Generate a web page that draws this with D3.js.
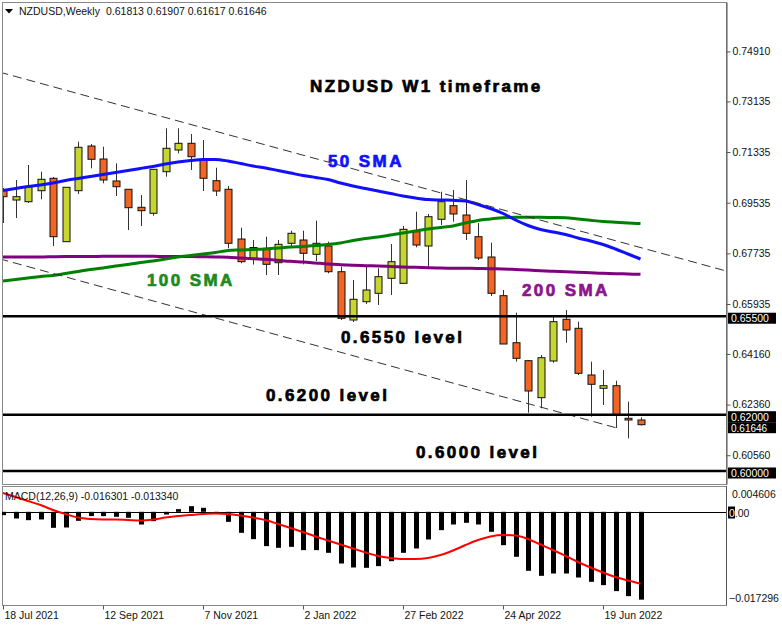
<!DOCTYPE html>
<html><head><meta charset="utf-8">
<script src="https://cdn.jsdelivr.net/npm/d3@7"></script>
<style>
body{margin:0;background:#fff;}
svg{display:block;font-family:"Liberation Sans",Arial,sans-serif;}
</style></head><body>
<svg id="c" width="782" height="626"></svg>
<script>
const dates = ["2021-07-18","2021-07-25","2021-08-01","2021-08-08","2021-08-15","2021-08-22","2021-08-29","2021-09-05","2021-09-12","2021-09-19","2021-09-26","2021-10-03","2021-10-10","2021-10-17","2021-10-24","2021-10-31","2021-11-07","2021-11-14","2021-11-21","2021-11-28","2021-12-05","2021-12-12","2021-12-19","2021-12-26","2022-01-02","2022-01-09","2022-01-16","2022-01-23","2022-01-30","2022-02-06","2022-02-13","2022-02-20","2022-02-27","2022-03-06","2022-03-13","2022-03-20","2022-03-27","2022-04-03","2022-04-10","2022-04-17","2022-04-24","2022-05-01","2022-05-08","2022-05-15","2022-05-22","2022-05-29","2022-06-05","2022-06-12","2022-06-19","2022-06-26","2022-07-03","2022-07-10"];
const open = [0.69986,0.69630,0.69570,0.69961,0.70402,0.68149,0.69961,0.71549,0.71087,0.70306,0.70011,0.69371,0.69158,0.70636,0.71407,0.71645,0.71052,0.70316,0.70011,0.68244,0.67552,0.67914,0.67402,0.68092,0.68209,0.67701,0.67996,0.67082,0.65366,0.66016,0.66315,0.66848,0.66670,0.68504,0.67996,0.68945,0.69428,0.69097,0.68326,0.67605,0.66230,0.64559,0.63920,0.62605,0.63909,0.65391,0.65071,0.63412,0.62939,0.63031,0.61873,0.61813];
const high = [0.70057,0.70341,0.70874,0.70636,0.70448,0.70092,0.71702,0.71620,0.71524,0.70935,0.70021,0.69808,0.70732,0.72178,0.72178,0.71976,0.71762,0.70778,0.70128,0.68646,0.68209,0.68326,0.68209,0.68539,0.68539,0.68895,0.68149,0.67260,0.66788,0.67260,0.67203,0.68067,0.68706,0.69215,0.69133,0.69925,0.69986,0.70341,0.68813,0.68113,0.66432,0.65625,0.63945,0.64122,0.65483,0.65721,0.65306,0.63884,0.63589,0.63209,0.62463,0.61907];
const low = [0.68813,0.68990,0.69524,0.69655,0.67996,0.68138,0.69844,0.70757,0.70224,0.69773,0.68564,0.68706,0.69072,0.70458,0.71290,0.70697,0.69950,0.69773,0.67914,0.67381,0.67338,0.66965,0.66965,0.67996,0.67345,0.67463,0.67026,0.65366,0.65295,0.65935,0.65899,0.66255,0.66670,0.67950,0.67260,0.68742,0.68859,0.68209,0.67498,0.66219,0.64513,0.63884,0.62072,0.62228,0.63849,0.64559,0.63412,0.61930,0.62345,0.61528,0.61162,0.61617];
const close = [0.69748,0.69748,0.70103,0.70366,0.68326,0.70082,0.71503,0.71077,0.70341,0.70103,0.69357,0.69250,0.70721,0.71468,0.71645,0.71169,0.70402,0.69950,0.68092,0.67438,0.67942,0.67345,0.68056,0.68447,0.67736,0.68092,0.67082,0.65426,0.66102,0.66432,0.66905,0.67438,0.68589,0.68031,0.69037,0.69570,0.69133,0.68447,0.67569,0.66315,0.64513,0.64005,0.62843,0.64026,0.65306,0.65011,0.63472,0.63081,0.63031,0.61990,0.61812,0.61646];
const sma50 = [0.69968,0.70039,0.70110,0.70164,0.70235,0.70323,0.70395,0.70466,0.70537,0.70608,0.70679,0.70750,0.70821,0.70910,0.70981,0.71034,0.71070,0.71070,0.71016,0.70928,0.70839,0.70768,0.70679,0.70590,0.70501,0.70430,0.70359,0.70235,0.70128,0.70039,0.69950,0.69862,0.69773,0.69702,0.69648,0.69631,0.69620,0.69595,0.69471,0.69328,0.69151,0.68920,0.68724,0.68582,0.68493,0.68405,0.68280,0.68174,0.68049,0.67889,0.67712,0.67534];
const sma100 = [0.66752,0.66805,0.66859,0.66912,0.66947,0.67019,0.67090,0.67161,0.67214,0.67285,0.67338,0.67409,0.67463,0.67534,0.67605,0.67658,0.67712,0.67765,0.67836,0.67854,0.67871,0.67889,0.67925,0.67960,0.67978,0.68014,0.68049,0.68102,0.68191,0.68262,0.68316,0.68387,0.68458,0.68529,0.68600,0.68653,0.68707,0.68813,0.68902,0.68955,0.69002,0.69016,0.69016,0.69016,0.69009,0.69002,0.68955,0.68909,0.68866,0.68838,0.68813,0.68795];
const sma200 = [0.67605,0.67605,0.67605,0.67605,0.67616,0.67623,0.67623,0.67623,0.67630,0.67630,0.67630,0.67630,0.67630,0.67623,0.67623,0.67623,0.67616,0.67605,0.67594,0.67569,0.67544,0.67523,0.67488,0.67452,0.67427,0.67392,0.67356,0.67331,0.67310,0.67296,0.67285,0.67267,0.67250,0.67239,0.67225,0.67214,0.67207,0.67203,0.67196,0.67186,0.67178,0.67161,0.67143,0.67118,0.67097,0.67079,0.67061,0.67043,0.67026,0.67011,0.67001,0.66990];
const macdHist = [-0.00062,-0.00124,-0.00155,-0.00142,-0.00297,-0.00291,-0.00167,-0.00080,-0.00080,-0.00093,-0.00111,-0.00235,-0.00173,-0.00050,0.00050,0.00105,0.00074,-0.00010,-0.00186,-0.00390,-0.00507,-0.00637,-0.00668,-0.00650,-0.00711,-0.00711,-0.00761,-0.00959,-0.01033,-0.01039,-0.01008,-0.00916,-0.00761,-0.00680,-0.00513,-0.00340,-0.00235,-0.00204,-0.00235,-0.00371,-0.00619,-0.00835,-0.01095,-0.01188,-0.01145,-0.01145,-0.01219,-0.01299,-0.01361,-0.01472,-0.01565,-0.01630];
const macdSignal = [0.00349,0.00275,0.00200,0.00126,0.00033,-0.00041,-0.00106,-0.00134,-0.00143,-0.00143,-0.00152,-0.00161,-0.00143,-0.00106,-0.00078,-0.00059,-0.00041,-0.00032,-0.00041,-0.00069,-0.00106,-0.00152,-0.00226,-0.00301,-0.00375,-0.00458,-0.00533,-0.00607,-0.00681,-0.00755,-0.00820,-0.00857,-0.00876,-0.00876,-0.00857,-0.00802,-0.00718,-0.00616,-0.00523,-0.00458,-0.00431,-0.00440,-0.00505,-0.00607,-0.00709,-0.00820,-0.00932,-0.01034,-0.01127,-0.01210,-0.01275,-0.01334];
const priceTicks = [0.74910,0.73135,0.71335,0.69535,0.67735,0.65935,0.64160,0.62360,0.60560];
const levelValues = [0.655,0.62,0.60];
const currentPrice = 0.61646;
const dateTicks = ["2021-07-18","2021-09-12","2021-11-07","2022-01-02","2022-02-27","2022-04-24","2022-06-19"];
const trendUpper = [["2021-07-16",0.74176],["2022-08-28",0.67090]];
const trendLower = [["2021-07-16",0.67541],["2022-06-26",0.61542]];
const macdMax = 0.004606, macdMin = -0.017296;
const headerText = "NZDUSD,Weekly";
const headerValues = "0.61813 0.61907 0.61617 0.61646";
const macdText = "MACD(12,26,9) -0.016301 -0.013340";

const parse = d3.utcParse("%Y-%m-%d");
const fmtDate = d3.utcFormat("%-d %b %Y");
const svg = d3.select("#c");
const L = 2, R = 726, T = 2, B = 484, MT = 486, MB = 605;

const x = d3.scaleUtc().domain([parse(dates[0]), parse(dateTicks[6])]).range([3, 603]);
const y = d3.scaleLinear().domain([0.595380, 0.766667]).range([B, T]);
const ym = d3.scaleLinear().domain([macdMin, macdMax]).range([MB, 487]);

const defs = svg.append("defs");
defs.append("clipPath").attr("id","cm").append("rect").attr("x",L).attr("y",T).attr("width",R-L).attr("height",B-T);
defs.append("clipPath").attr("id","cd").append("rect").attr("x",L).attr("y",MT).attr("width",R-L).attr("height",MB-MT);

const candles = dates.map((d,i)=>({date:parse(d),o:open[i],h:high[i],l:low[i],c:close[i]}));
const ORANGE = "#f26522", LIME = "#c5d62e";

const gm = svg.append("g").attr("clip-path","url(#cm)");
const cg = gm.append("g");
cg.selectAll("line.w").data(candles).join("line").attr("class","w")
  .attr("x1",d=>Math.round(x(d.date))+0.5).attr("x2",d=>Math.round(x(d.date))+0.5)
  .attr("y1",d=>y(d.h)).attr("y2",d=>y(d.l)).attr("stroke","#333").attr("stroke-width",1);
cg.selectAll("rect.b").data(candles).join("rect").attr("class","b")
  .attr("x",d=>Math.round(x(d.date))-3).attr("width",7)
  .attr("y",d=>y(Math.max(d.o,d.c))).attr("height",d=>Math.max(1,Math.abs(y(d.o)-y(d.c))))
  .attr("fill",d=>d.c>=d.o?LIME:ORANGE).attr("stroke","#111").attr("stroke-width",1);

const lineGen = (arr)=>d3.line().x((v,i)=>x(parse(dates[i]))).y(v=>y(v)).curve(d3.curveMonotoneX)(arr);
gm.append("path").attr("d",lineGen(sma200)).attr("fill","none").attr("stroke","#800080").attr("stroke-width",3);
gm.append("path").attr("d",lineGen(sma100)).attr("fill","none").attr("stroke","#008000").attr("stroke-width",3);
gm.append("path").attr("d",lineGen(sma50)).attr("fill","none").attr("stroke","#1010ff").attr("stroke-width",3);

[trendUpper,trendLower].forEach(t=>{
  gm.append("line").attr("x1",x(parse(t[0][0]))).attr("y1",y(t[0][1]))
    .attr("x2",x(parse(t[1][0]))).attr("y2",y(t[1][1]))
    .attr("stroke","#333").attr("stroke-width",1).attr("stroke-dasharray","9,5");
});
gm.selectAll("line.lv").data(levelValues).join("line").attr("class","lv")
  .attr("x1",L).attr("x2",R).attr("y1",d=>y(d)).attr("y2",d=>y(d))
  .attr("stroke","#000").attr("stroke-width",2.5);

svg.append("rect").attr("x",L+0.5).attr("y",T+0.5).attr("width",R-L).attr("height",B-T).attr("fill","none").attr("stroke","#888");
svg.append("rect").attr("x",L+0.5).attr("y",MT+0.5).attr("width",R-L).attr("height",MB-MT).attr("fill","none").attr("stroke","#888");

const ya = svg.append("g").attr("transform",`translate(${R+0.5},0)`)
  .call(d3.axisRight(y).tickValues(priceTicks).tickFormat(d3.format(".5f")).tickSizeInner(4).tickSizeOuter(0));
ya.select(".domain").attr("stroke","#555");
ya.selectAll(".tick line").attr("stroke","#555");
ya.selectAll(".tick text").attr("x",6).attr("font-size",10.5).attr("font-family","'Liberation Sans',Arial,sans-serif").attr("fill","#111");

// highlighted labels: current price first (underneath), then levels
const mk = svg.append("g");
{
  const g = mk.append("g");
  g.append("rect").attr("x",728).attr("y",y(currentPrice)-2.5).attr("width",48).attr("height",11).attr("fill","#000");
  g.append("text").attr("x",731).attr("y",y(currentPrice)+7.5).attr("font-size",10).attr("fill","#fff").text(d3.format(".5f")(currentPrice));
}
levelValues.forEach(v=>{
  const g = mk.append("g");
  g.append("rect").attr("x",728).attr("y",y(v)-3.5).attr("width",48).attr("height",11).attr("fill","#000");
  g.append("text").attr("x",731).attr("y",y(v)+6).attr("font-size",10.5).attr("fill","#fff").text(d3.format(".5f")(v));
});

const gd = svg.append("g").attr("clip-path","url(#cd)");
gd.append("line").attr("x1",L).attr("x2",R).attr("y1",Math.round(ym(0))+0.5).attr("y2",Math.round(ym(0))+0.5).attr("stroke","#000").attr("stroke-width",1);
gd.selectAll("rect.h").data(macdHist).join("rect").attr("class","h")
  .attr("x",(v,i)=>Math.round(x(parse(dates[i])))-2).attr("width",5)
  .attr("y",v=>Math.min(ym(v),ym(0))).attr("height",v=>Math.abs(ym(v)-ym(0)))
  .attr("fill","#000");
gd.append("path").attr("d",d3.line().x((v,i)=>x(parse(dates[i]))).y(v=>ym(v)).curve(d3.curveMonotoneX)(macdSignal))
  .attr("fill","none").attr("stroke","#ff0000").attr("stroke-width",2);

svg.append("line").attr("x1",R+0.5).attr("x2",R+0.5).attr("y1",MT).attr("y2",MB).attr("stroke","#555");
svg.append("text").attr("x",732).attr("y",498).attr("font-size",10.5).attr("fill","#111").text(d3.format(".6f")(macdMax));
svg.append("rect").attr("x",728).attr("y",506.5).attr("width",7).attr("height",12).attr("fill","#000");
const zt = svg.append("text").attr("x",729).attr("y",517).attr("font-size",10.5);
zt.append("tspan").attr("fill","#fff").text("0");
zt.append("tspan").attr("fill","#111").text(".00");
svg.append("text").attr("x",729).attr("y",602).attr("font-size",10.5).attr("fill","#111").text(d3.format(".6f")(macdMin));

const xa = svg.append("g").attr("transform",`translate(0,${MB+0.5})`)
  .call(d3.axisBottom(x).tickValues(dateTicks.map(parse)).tickFormat(fmtDate).tickSizeInner(4).tickSizeOuter(0));
xa.select(".domain").remove();
xa.selectAll(".tick line").attr("stroke","#555");
xa.selectAll(".tick text").attr("text-anchor","start").attr("x",1).attr("y",13).attr("dy",0)
  .attr("font-size",10.5).attr("font-family","'Liberation Sans',Arial,sans-serif").attr("fill","#111");

svg.append("path").attr("d","M5,9 L13,9 L9,13.5 Z").attr("fill","#000");
svg.append("text").attr("x",19).attr("y",15).attr("font-size",10.5).attr("fill","#111").text(headerText);
svg.append("text").attr("x",106).attr("y",15).attr("font-size",10.5).attr("fill","#111").text(headerValues);
svg.append("text").attr("x",5).attr("y",500).attr("font-size",10.5).attr("fill","#111").text(macdText);

const ann = [
  ["NZDUSD W1 timeframe",310,92,"#000"],
  ["50 SMA",328,167,"#1010ff"],
  ["100 SMA",147,286,"#1e8a1e"],
  ["200 SMA",522,296,"#8c148c"],
  ["0.6550 level",341,343,"#000"],
  ["0.6200 level",266,401,"#000"],
  ["0.6000 level",416,458,"#000"]
];
ann.forEach(a=>{
  svg.append("text").attr("x",a[1]).attr("y",a[2]).attr("font-size",17).attr("font-weight","bold")
    .attr("letter-spacing",2.4).attr("fill",a[3]).attr("stroke",a[3]).attr("stroke-width",0.7).text(a[0]);
});
</script>
</body></html>
